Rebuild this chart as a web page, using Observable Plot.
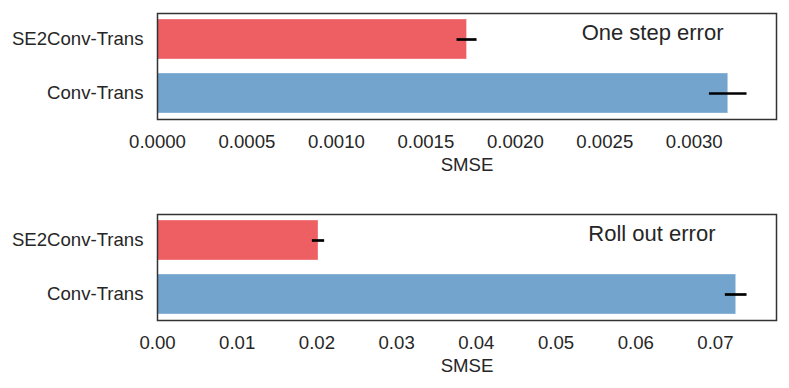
<!DOCTYPE html>
<html>
<head>
<meta charset="utf-8">
<script src="https://cdn.jsdelivr.net/npm/d3@7"></script>
<script src="https://cdn.jsdelivr.net/npm/@observablehq/plot@0.6"></script>
<style>
  html, body { margin: 0; padding: 0; background: #fff; }
  #chart svg { display: block; }
</style>
</head>
<body>
<div id="chart"></div>
<script>
const models = ["SE2Conv-Trans", "Conv-Trans"];
const barColors = ["#ee5f64", "#73a4cd"];

const oneStepSMSE = [0.00173, 0.00319];
const oneStepErr = [0.000056, 0.000105];
const rollOutSMSE = [0.0202, 0.0726];
const rollOutErr = [0.00077, 0.00136];

const oneStepTicks = [0, 0.0005, 0.0010, 0.0015, 0.0020, 0.0025, 0.0030];
const rollOutTicks = [0, 0.01, 0.02, 0.03, 0.04, 0.05, 0.06, 0.07];

const panelTitles = ["One step error", "Roll out error"];
const xLabel = "SMSE";

const FONT = "'Liberation Sans', Arial, Helvetica, sans-serif";
const TEXT = "#262626";

function panel({values, errors, ticks, fmt, title, height, marginTop, marginBottom, titleDx}) {
  const rows = models.map((m, i) => ({model: m, value: values[i], err: errors[i], color: barColors[i]}));
  const xmax = d3.max(rows, d => d.value + d.err) * 1.05;
  return Plot.plot({
    width: 789,
    height,
    marginLeft: 157,
    marginRight: 13,
    marginTop,
    marginBottom,
    style: {fontFamily: FONT, background: "#fff", color: TEXT},
    x: {domain: [0, xmax]},
    y: {domain: models, paddingInner: 0.266, paddingOuter: 0.105, align: 0.5},
    marks: [
      Plot.barX(rows, {y: "model", x: "value", fill: "color", stroke: "#ffffff", strokeOpacity: 0.35, strokeWidth: 1}),
      Plot.ruleY(rows, {y: "model", x1: d => d.value - d.err, x2: d => d.value + d.err, stroke: "#000", strokeWidth: 2.7}),
      Plot.frame({stroke: "#333", strokeWidth: 1.5}),
      Plot.axisX({ticks, tickFormat: d3.format(fmt), tickSize: 0, tickPadding: 15, fontSize: 18.6, fill: TEXT,
        label: xLabel, labelAnchor: "center", labelArrow: "none", labelOffset: 51}),
      Plot.axisY({tickSize: 0, tickPadding: 14, fontSize: 18.6, fill: TEXT, label: null}),
      Plot.text([title], {frameAnchor: "top-right", dx: titleDx, dy: 19, lineAnchor: "middle", textAnchor: "end",
        fontSize: 22, fill: TEXT})
    ]
  });
}

const chart = document.getElementById("chart");
chart.appendChild(panel({values: oneStepSMSE, errors: oneStepErr, ticks: oneStepTicks, fmt: ".4f",
  title: panelTitles[0], height: 190, marginTop: 13, marginBottom: 71, titleDx: -53}));
chart.appendChild(panel({values: rollOutSMSE, errors: rollOutErr, ticks: rollOutTicks, fmt: ".2f",
  title: panelTitles[1], height: 198, marginTop: 24, marginBottom: 68, titleDx: -61}));
</script>
</body>
</html>
